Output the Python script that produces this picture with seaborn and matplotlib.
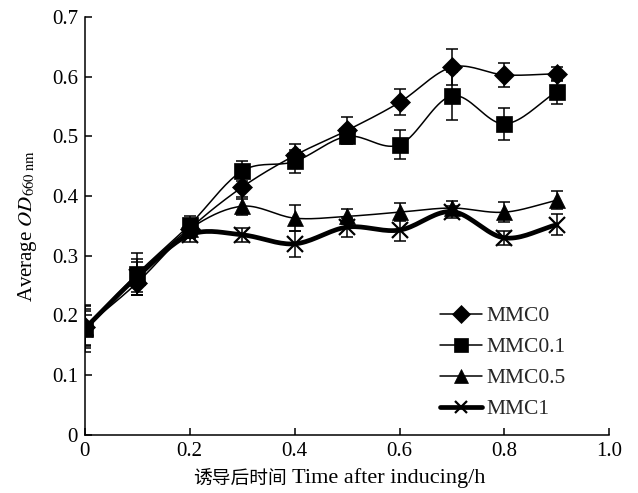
import matplotlib
matplotlib.use("Agg")
import matplotlib.pyplot as plt
import numpy as np
import seaborn as sns

# data
time_h = [0, 0.1, 0.2, 0.3, 0.4, 0.5, 0.6, 0.7, 0.8, 0.9]
series_names = ["MMC0", "MMC0.1", "MMC0.5", "MMC1"]
mmc0 = [0.180, 0.255, 0.345, 0.415, 0.468, 0.510, 0.557, 0.616, 0.603, 0.605]
mmc0_err = [0.035, 0.020, 0.015, 0.020, 0.020, 0.022, 0.022, 0.030, 0.020, 0.012]
mmc01 = [0.178, 0.270, 0.352, 0.442, 0.458, 0.500, 0.486, 0.568, 0.521, 0.575]
mmc01_err = [0.040, 0.035, 0.015, 0.017, 0.020, 0.010, 0.024, 0.040, 0.027, 0.020]
mmc05 = [0.180, 0.265, 0.345, 0.383, 0.363, 0.366, 0.373, 0.380, 0.373, 0.393]
mmc05_err = [0.030, 0.030, 0.015, 0.015, 0.022, 0.012, 0.015, 0.012, 0.017, 0.015]
mmc1 = [0.178, 0.265, 0.335, 0.335, 0.320, 0.348, 0.343, 0.374, 0.330, 0.352]
mmc1_err = [0.030, 0.025, 0.012, 0.012, 0.022, 0.016, 0.018, 0.010, 0.012, 0.018]


def smooth(x, y, n=20):
    # catmull-rom curve through the points, like excel's smoothed lines
    x = np.asarray(x, float)
    y = np.asarray(y, float)
    px = np.concatenate([[2 * x[0] - x[1]], x, [2 * x[-1] - x[-2]]])
    py = np.concatenate([[2 * y[0] - y[1]], y, [2 * y[-1] - y[-2]]])
    t = np.linspace(0, 1, n)[:, None]
    xs, ys = [], []
    for i in range(1, len(px) - 2):
        for p, out in ((px, xs), (py, ys)):
            p0, p1, p2, p3 = p[i - 1], p[i], p[i + 1], p[i + 2]
            seg = 0.5 * ((2 * p1) + (-p0 + p2) * t + (2 * p0 - 5 * p1 + 4 * p2 - p3) * t ** 2
                         + (-p0 + 3 * p1 - 3 * p2 + p3) * t ** 3)
            out.append(seg.ravel())
    return np.concatenate(xs), np.concatenate(ys)


sns.set_theme(style="ticks")
plt.rcParams["font.family"] = ["Liberation Serif", "Noto Sans CJK SC"]
plt.rcParams["mathtext.fontset"] = "stix"

fig = plt.figure(figsize=(6.38, 4.93), dpi=100)
ax = fig.add_axes([0.133, 0.118, 0.822, 0.8475])

styles = [
    (mmc0, mmc0_err, "D", 10.5, 1.1),
    (mmc01, mmc01_err, "s", 12, 1.1),
    (mmc05, mmc05_err, "^", 12, 1.1),
    (mmc1, mmc1_err, "x", 11, 3.4),
]
handles = []
for name, (vals, errs, mk, ms, lw) in zip(series_names, styles):
    ax.errorbar(time_h, vals, yerr=errs, fmt="none", ecolor="black",
                elinewidth=1.1, capsize=4, capthick=1.1, zorder=2)
    sx, sy = smooth(time_h, vals)
    ax.plot(sx, sy, color="black", lw=lw, zorder=3)
    mew = 1.6 if mk == "x" else 0.5
    ax.plot(time_h, vals, ls="none", marker=mk, ms=ms, color="black", mew=mew, zorder=4)
    h, = ax.plot([], [], color="black", lw=lw, marker=mk, ms=ms * 0.85, mew=mew, label=name)
    handles.append(h)

ax.set_xlim(0, 1.0)
ax.set_ylim(0, 0.7)
ax.set_xticks([0, 0.2, 0.4, 0.6, 0.8, 1.0])
ax.set_xticklabels(["0", "0.2", "0.4", "0.6", "0.8", "1.0"])
ax.set_yticks(np.arange(0, 0.71, 0.1))
ax.set_yticklabels(["0", "0.1", "0.2", "0.3", "0.4", "0.5", "0.6", "0.7"])
ax.tick_params(direction="in", length=5, width=1.1, labelsize=15, colors="black", pad=5)
for s in ["top", "right"]:
    ax.spines[s].set_visible(False)
for s in ["left", "bottom"]:
    ax.spines[s].set_linewidth(1.1)
    ax.spines[s].set_color("black")

# x label: chinese part is set smaller than the latin part in the original
fig.text(287 / 638, 1 - 479 / 493, "诱导后时间", fontsize=13.5, family=["Noto Sans CJK SC"],
         ha="right", va="center", color="black")
fig.text(292 / 638, 1 - 478 / 493, "Time after inducing/h", fontsize=16,
         ha="left", va="center", color="black")
ax.set_ylabel(r"Average $\mathit{OD}_{\mathrm{660\ nm}}$", fontsize=15, color="black", labelpad=9)

ax.legend(handles=handles, loc="upper left", bbox_to_anchor=(0.657, 0.334), frameon=False,
          fontsize=15.5, handlelength=1.95, handletextpad=0.2, labelspacing=0.51, borderpad=0)

fig.savefig("out.png", dpi=100)
